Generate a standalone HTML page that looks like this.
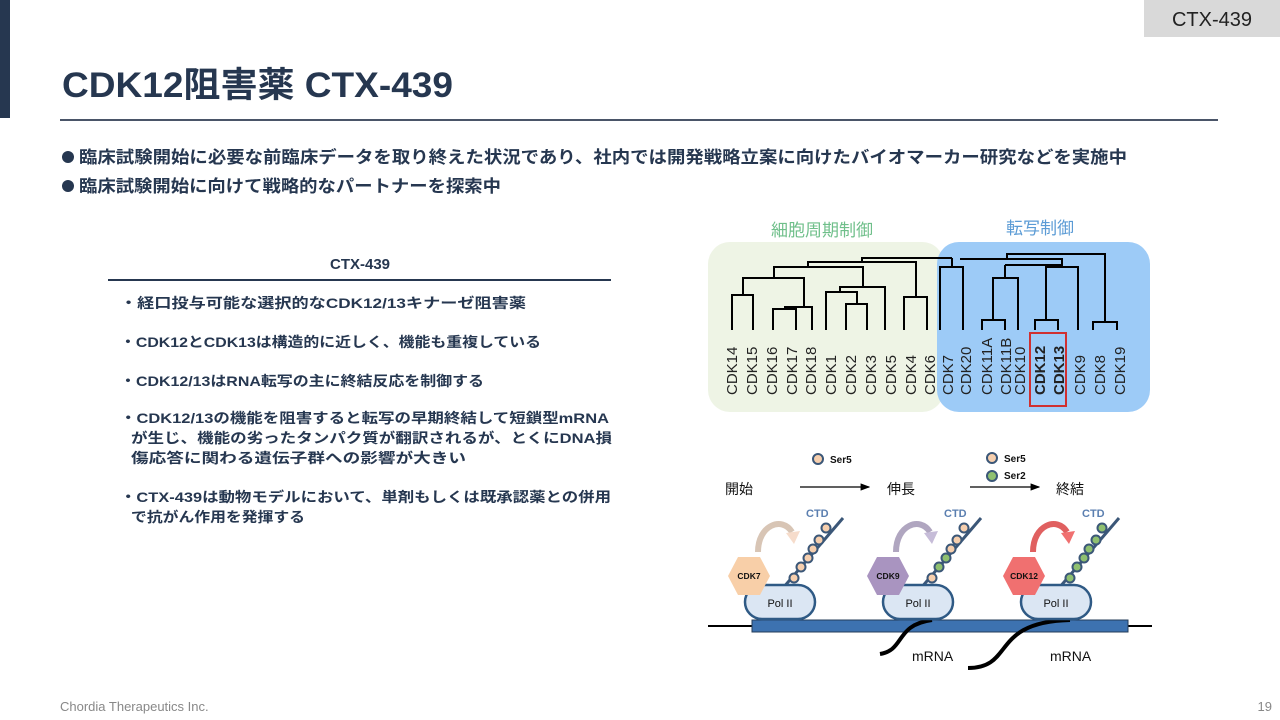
<!DOCTYPE html>
<html><head><meta charset="utf-8"><style>
html,body{margin:0;padding:0;background:#fff;}
svg{display:block;}
text{font-family:"Liberation Sans","Noto Sans CJK JP",sans-serif;}
</style></head><body>
<svg width="1280" height="720" viewBox="0 0 1280 720" xmlns="http://www.w3.org/2000/svg">
<rect x="0" y="0" width="10" height="118" fill="#263750"/>
<rect x="1144" y="0" width="136" height="37" fill="#d9d9d9"/>
<text x="1212" y="26" font-size="20" text-anchor="middle" fill="#222">CTX-439</text>
<text x="62" y="97" font-size="35" font-weight="bold" fill="#263750" textLength="391" lengthAdjust="spacingAndGlyphs">CDK12阻害薬 CTX-439</text>
<line x1="60" y1="120" x2="1218" y2="120" stroke="#4a5568" stroke-width="2"/>
<circle cx="68" cy="157" r="6" fill="#263750"/>
<circle cx="68" cy="186" r="6" fill="#263750"/>
<text x="79" y="163" font-size="17" font-weight="bold" fill="#263750" textLength="1048" lengthAdjust="spacingAndGlyphs">臨床試験開始に必要な前臨床データを取り終えた状況であり、社内では開発戦略立案に向けたバイオマーカー研究などを実施中</text>
<text x="79" y="192" font-size="17" font-weight="bold" fill="#263750" textLength="422" lengthAdjust="spacingAndGlyphs">臨床試験開始に向けて戦略的なパートナーを探索中</text>

<text x="360" y="269" font-size="15" font-weight="bold" fill="#263750" text-anchor="middle">CTX-439</text>
<line x1="108" y1="280" x2="611" y2="280" stroke="#263750" stroke-width="2"/>
<g font-size="14" font-weight="bold" fill="#263750">
<text x="120" y="308" textLength="406" lengthAdjust="spacingAndGlyphs">・経口投与可能な選択的なCDK12/13キナーゼ阻害薬</text>
<text x="120" y="347" textLength="421" lengthAdjust="spacingAndGlyphs">・CDK12とCDK13は構造的に近しく、機能も重複している</text>
<text x="120" y="386" textLength="364" lengthAdjust="spacingAndGlyphs">・CDK12/13はRNA転写の主に終結反応を制御する</text>
<text x="120" y="423" textLength="489" lengthAdjust="spacingAndGlyphs">・CDK12/13の機能を阻害すると転写の早期終結して短鎖型mRNA</text>
<text x="131" y="443" textLength="481" lengthAdjust="spacingAndGlyphs">が生じ、機能の劣ったタンパク質が翻訳されるが、とくにDNA損</text>
<text x="131" y="463" textLength="335" lengthAdjust="spacingAndGlyphs">傷応答に関わる遺伝子群への影響が大きい</text>
<text x="120" y="502" textLength="491" lengthAdjust="spacingAndGlyphs">・CTX-439は動物モデルにおいて、単剤もしくは既承認薬との併用</text>
<text x="131" y="522" textLength="174" lengthAdjust="spacingAndGlyphs">で抗がん作用を発揮する</text>
</g>

<rect x="708" y="242" width="236" height="170" rx="22" fill="#eef4e5"/>
<rect x="937" y="242" width="213" height="170" rx="22" fill="#9dcbf7"/>
<text x="822" y="236" font-size="17" fill="#6fbf8a" text-anchor="middle">細胞周期制御</text>
<text x="1040" y="234" font-size="17" fill="#5b9bd5" text-anchor="middle">転写制御</text>
<g stroke="#000" stroke-width="2" fill="none">
<path d="M732 330V295H753V330M773 330V309H796V330M785 309V307H812V330M743 295V278H804V307M826 330V292H857V304M846 330V304H867V330M840 292V287H885V330M774 278V267H863V287M904 330V297H927V330M916 297V267M808 267V262H916V267M862 262V258H952M940 330V267H963V330M952 267V258M982 330V320H1005V330M993 320V278H1018V330M1005 278V265M961 258V259H1062V265H1005M1035 330V320H1058V330M1046 320V267H1078V330M1062 267V265M1093 330V322H1117V330M1105 322V254H1007V259"/>
</g>
<rect x="1030" y="333" width="36" height="73" fill="none" stroke="#d03030" stroke-width="2"/>
<g font-size="15" fill="#222">
<text transform="translate(737,395) rotate(-90)">CDK14</text>
<text transform="translate(757,395) rotate(-90)">CDK15</text>
<text transform="translate(777,395) rotate(-90)">CDK16</text>
<text transform="translate(797,395) rotate(-90)">CDK17</text>
<text transform="translate(816,395) rotate(-90)">CDK18</text>
<text transform="translate(836,395) rotate(-90)">CDK1</text>
<text transform="translate(856,395) rotate(-90)">CDK2</text>
<text transform="translate(876,395) rotate(-90)">CDK3</text>
<text transform="translate(896,395) rotate(-90)">CDK5</text>
<text transform="translate(916,395) rotate(-90)">CDK4</text>
<text transform="translate(935,395) rotate(-90)">CDK6</text>
<text transform="translate(953,395) rotate(-90)">CDK7</text>
<text transform="translate(971,395) rotate(-90)">CDK20</text>
<text transform="translate(992,395) rotate(-90)">CDK11A</text>
<text transform="translate(1011,395) rotate(-90)">CDK11B</text>
<text transform="translate(1025,395) rotate(-90)">CDK10</text>
<text transform="translate(1045,395) rotate(-90)" font-weight="bold">CDK12</text>
<text transform="translate(1064,395) rotate(-90)" font-weight="bold">CDK13</text>
<text transform="translate(1085,395) rotate(-90)">CDK9</text>
<text transform="translate(1105,395) rotate(-90)">CDK8</text>
<text transform="translate(1125,395) rotate(-90)">CDK19</text>
</g>

<defs><marker id="ah" markerWidth="8" markerHeight="8" refX="7" refY="4" orient="auto"><path d="M0,1 L8,4 L0,7z" fill="#000"/></marker></defs>
<g font-size="14" fill="#111">
<text x="725" y="494">開始</text><text x="887" y="494">伸長</text><text x="1056" y="494">終結</text>
</g>
<line x1="800" y1="487" x2="869" y2="487" stroke="#000" stroke-width="1.2" marker-end="url(#ah)"/>
<line x1="970" y1="487" x2="1039" y2="487" stroke="#000" stroke-width="1.2" marker-end="url(#ah)"/>
<g stroke="#3b5778" stroke-width="2">
<circle cx="818" cy="459" r="5" fill="#f6cfae"/>
<circle cx="992" cy="458" r="5" fill="#f6cfae"/>
<circle cx="992" cy="476" r="5" fill="#8fc070"/>
</g>
<g font-size="10" font-weight="bold" fill="#111">
<text x="830" y="463">Ser5</text><text x="1004" y="462">Ser5</text><text x="1004" y="479">Ser2</text>
</g>
<line x1="708" y1="626" x2="1152" y2="626" stroke="#000" stroke-width="2"/>
<rect x="752" y="620" width="376" height="12" fill="#3d72b0" stroke="#243c5a" stroke-width="1"/>
<g stroke="#000" stroke-width="4" fill="none">
<path d="M880 654C905 650 895 625 932 620"/>
<path d="M968 668C1015 668 990 622 1070 620"/>
</g>
<g font-size="14" fill="#111"><text x="912" y="661">mRNA</text><text x="1050" y="661">mRNA</text></g>
<g stroke="#3b5778" stroke-width="3" fill="none">
<line x1="783" y1="588" x2="843" y2="518"/>
<line x1="921" y1="588" x2="981" y2="518"/>
<line x1="1059" y1="588" x2="1119" y2="518"/>
</g>
<g font-size="11" font-weight="bold" fill="#5b7fb0"><text x="806" y="517">CTD</text><text x="944" y="517">CTD</text><text x="1082" y="517">CTD</text></g>
<g stroke="#3b5778" stroke-width="2">
<circle cx="794" cy="578" r="4.5" fill="#f6cfae"/><circle cx="801" cy="567" r="4.5" fill="#f6cfae"/><circle cx="808" cy="558" r="4.5" fill="#f6cfae"/><circle cx="813" cy="549" r="4.5" fill="#f6cfae"/><circle cx="819" cy="540" r="4.5" fill="#f6cfae"/><circle cx="826" cy="528" r="4.5" fill="#f6cfae"/>
<circle cx="932" cy="578" r="4.5" fill="#f6cfae"/><circle cx="939" cy="567" r="4.5" fill="#8fc070"/><circle cx="946" cy="558" r="4.5" fill="#8fc070"/><circle cx="951" cy="549" r="4.5" fill="#f6cfae"/><circle cx="957" cy="540" r="4.5" fill="#f6cfae"/><circle cx="964" cy="528" r="4.5" fill="#f6cfae"/>
<circle cx="1070" cy="578" r="4.5" fill="#8fc070"/><circle cx="1077" cy="567" r="4.5" fill="#8fc070"/><circle cx="1084" cy="558" r="4.5" fill="#8fc070"/><circle cx="1089" cy="549" r="4.5" fill="#8fc070"/><circle cx="1096" cy="540" r="4.5" fill="#8fc070"/><circle cx="1102" cy="528" r="4.5" fill="#8fc070"/>
</g>
<g stroke="#2f5a85" stroke-width="2.5" fill="#dbe6f3">
<rect x="745" y="585" width="70" height="34" rx="17"/>
<rect x="883" y="585" width="70" height="34" rx="17"/>
<rect x="1021" y="585" width="70" height="34" rx="17"/>
</g>
<g font-size="11" fill="#111" text-anchor="middle"><text x="780" y="607">Pol II</text><text x="918" y="607">Pol II</text><text x="1056" y="607">Pol II</text></g>
<path d="M728 576L738 557H760L770 576L760 595H738Z" fill="#f8cfa8"/>
<path d="M867 576L877 557H899L909 576L899 595H877Z" fill="#a994c0"/>
<path d="M1003 576L1013 557H1035L1045 576L1035 595H1013Z" fill="#f07070"/>
<g font-size="8.5" font-weight="bold" fill="#111" text-anchor="middle"><text x="749" y="579">CDK7</text><text x="888" y="579">CDK9</text><text x="1024" y="579">CDK12</text></g>
<g fill="none" stroke-width="6">
<path d="M758 552C758 525 782 516 792 532" stroke="#d8c5b5"/>
<path d="M896 552C896 525 920 516 930 532" stroke="#b0a6c0"/>
<path d="M1033 552C1033 525 1057 516 1067 532" stroke="#e06060"/>
</g>
<path d="M786 533L800 531L794 544Z" fill="#f6dccb"/>
<path d="M924 533L938 531L932 544Z" fill="#c6bcd8"/>
<path d="M1061 533L1075 531L1069 544Z" fill="#f07070"/>

<text x="60" y="711" font-size="13" fill="#888">Chordia Therapeutics Inc.</text>
<text x="1272" y="711" font-size="13" fill="#888" text-anchor="end">19</text>
</svg>
</body></html>
